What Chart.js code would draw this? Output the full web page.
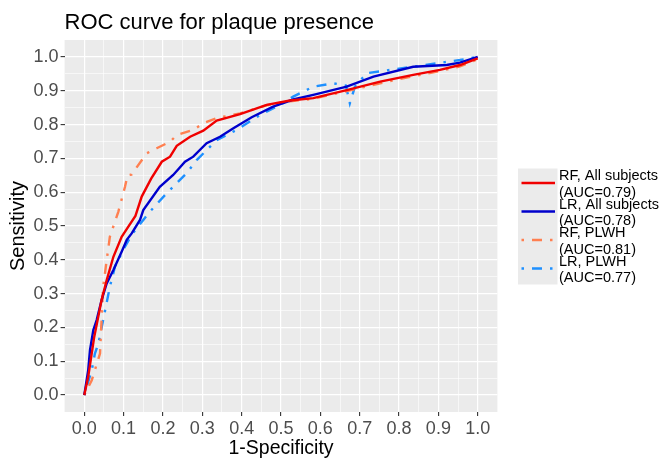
<!DOCTYPE html>
<html>
<head>
<meta charset="utf-8">
<script src="https://cdn.jsdelivr.net/npm/chart.js@4"></script>
<style>
html,body{margin:0;padding:0;background:#fff;}
#c{display:block;}
</style>
</head>
<body>
<canvas id="c" width="661" height="460"></canvas>
<script>
const chartTitle = "ROC curve for plaque presence";
const xTitle = "1-Specificity";
const yTitle = "Sensitivity";
const tickValues = [0,0.1,0.2,0.3,0.4,0.5,0.6,0.7,0.8,0.9,1.0];
const minorValues = [0.05,0.15,0.25,0.35,0.45,0.55,0.65,0.75,0.85,0.95];
const seriesLabels = [
  ["RF, All subjects","(AUC=0.79)"],
  ["LR, All subjects","(AUC=0.78)"],
  ["RF, PLWH","(AUC=0.81)"],
  ["LR, PLWH","(AUC=0.77)"]
];
const rfAll = [[0,0],[0.010,0.054],[0.025,0.17],[0.044,0.281],[0.057,0.340],[0.074,0.409],[0.095,0.468],[0.112,0.498],[0.13,0.53],[0.146,0.587],[0.17,0.64],[0.197,0.690],[0.218,0.705],[0.235,0.737],[0.269,0.764],[0.3025,0.782],[0.3365,0.8115],[0.396,0.831],[0.4636,0.858],[0.523,0.871],[0.582,0.878],[0.667,0.902],[0.752,0.927],[0.836,0.947],[0.904,0.9615],[0.955,0.976],[1.0,0.996]];
const lrAll = [[0,0],[0.010,0.074],[0.0145,0.133],[0.023,0.192],[0.0315,0.222],[0.044,0.281],[0.057,0.330],[0.074,0.370],[0.095,0.424],[0.108,0.459],[0.1205,0.478],[0.1416,0.518],[0.150,0.547],[0.192,0.616],[0.226,0.651],[0.256,0.690],[0.277,0.705],[0.311,0.745],[0.345,0.764],[0.379,0.789],[0.4255,0.8215],[0.480,0.853],[0.531,0.874],[0.582,0.8875],[0.667,0.912],[0.735,0.942],[0.836,0.971],[0.921,0.976],[0.955,0.983],[1.0,1.0]];
const rfPlwh = [[0,0],[0.019,0.044],[0.040,0.123],[0.044,0.222],[0.048,0.320],[0.057,0.399],[0.065,0.468],[0.0865,0.542],[0.1035,0.616],[0.11,0.65],[0.12,0.652],[0.1585,0.715],[0.184,0.730],[0.218,0.749],[0.235,0.769],[0.277,0.784],[0.3025,0.804],[0.3365,0.819],[0.396,0.833],[0.4636,0.857],[0.523,0.869],[0.582,0.876],[0.667,0.899],[0.752,0.922],[0.836,0.943],[0.904,0.958],[0.955,0.972],[1.0,0.993]];
const lrPlwh = [[0,0],[0.019,0.074],[0.027,0.123],[0.036,0.153],[0.048,0.222],[0.053,0.251],[0.065,0.320],[0.078,0.380],[0.1035,0.439],[0.120,0.473],[0.133,0.493],[0.150,0.518],[0.163,0.5375],[0.2095,0.597],[0.260,0.656],[0.2857,0.695],[0.3365,0.754],[0.387,0.784],[0.4466,0.828],[0.4975,0.858],[0.531,0.8825],[0.582,0.912],[0.633,0.922],[0.665,0.915],[0.675,0.863],[0.688,0.912],[0.718,0.952],[0.777,0.9615],[0.836,0.971],[0.896,0.981],[0.955,0.991],[1.0,1.0]];

const seriesData = [rfAll, lrAll, rfPlwh, lrPlwh];
const colors = ["#F00000", "#0000CC", "#FF7F50", "#1E90FF"];
const dashes = [[], [], [2.5, 8, 10, 8], [2.5, 8, 10, 8]];
const FONT = "'Liberation Sans', Arial, sans-serif";

const allTicks = tickValues.concat(minorValues).sort((a,b)=>a-b);
const isMinor = v => Math.round(v*20) % 2 === 1;

function axis(title, isX) {
  return {
    type: 'linear',
    min: -0.05, max: 1.05,
    afterBuildTicks: s => { s.ticks = allTicks.map(v => ({value: v})); },
    afterFit: s => { if (isX) s.height = 48; else s.width = 64.6; },
    border: {display: false},
    grid: {
      color: '#FFFFFF',
      lineWidth: c => (c.tick && isMinor(c.tick.value)) ? 0.6 : 1.2,
      tickColor: c => (c.tick && isMinor(c.tick.value)) ? 'rgba(0,0,0,0)' : '#333333',
      tickWidth: 1.1,
      tickLength: 4,
      drawTicks: true
    },
    ticks: {
      autoSkip: false,
      maxRotation: 0,
      color: '#4D4D4D',
      font: {family: FONT, size: 18},
      padding: isX ? 2 : 2,
      callback: v => isMinor(v) ? '' : Number(v).toFixed(1)
    },
    title: {
      display: true,
      text: title,
      color: '#000000',
      font: {family: FONT, size: isX ? 19.5 : 20, lineHeight: 1.2},
      padding: isX ? {top: 0, bottom: 0} : {top: 6, bottom: 0}
    }
  };
}

const decor = {
  id: 'decor',
  beforeDraw(chart) {
    const {ctx, chartArea: a} = chart;
    ctx.save();
    ctx.fillStyle = '#EBEBEB';
    ctx.fillRect(a.left, a.top, a.right - a.left, a.bottom - a.top);
    ctx.restore();
  },
  afterDraw(chart) {
    const {ctx, chartArea: a} = chart;
    ctx.save();
    ctx.fillStyle = '#000000';
    ctx.font = "22px " + FONT;
    ctx.textBaseline = 'alphabetic';
    ctx.textAlign = 'left';
    ctx.fillText(chartTitle, a.left, 28.5);

    // legend
    const keyL = 518, keyR = 557.5;
    const centers = [183, 211.5, 240, 268.5];
    ctx.fillStyle = '#EBEBEB';
    ctx.fillRect(keyL, 168.5, keyR - keyL, 116);
    chart.data.datasets.forEach((ds, i) => {
      const cy = centers[i];
      ctx.strokeStyle = ds.borderColor;
      ctx.lineWidth = ds.borderWidth;
      ctx.setLineDash(ds.borderDash || []);
      ctx.lineCap = 'butt';
      ctx.beginPath();
      ctx.moveTo(521.5, cy);
      ctx.lineTo(555, cy);
      ctx.stroke();
      ctx.setLineDash([]);
      ctx.fillStyle = '#000000';
      ctx.font = "14.5px " + FONT;
      ctx.fillText(ds.label[0], 559, cy - 8 + 5);
      ctx.fillText(ds.label[1], 559, cy + 8.5 + 5);
    });
    ctx.restore();
  }
};

new Chart(document.getElementById('c'), {
  type: 'scatter',
  data: {
    datasets: seriesData.map((d, i) => ({
      label: seriesLabels[i],
      data: d.map(p => ({x: p[0], y: p[1]})),
      showLine: true,
      borderColor: colors[i],
      backgroundColor: colors[i],
      borderWidth: 2.4,
      borderDash: dashes[i],
      borderCapStyle: 'butt',
      pointRadius: 0,
      tension: 0,
      fill: false
    }))
  },
  options: {
    responsive: false,
    animation: false,
    layout: {padding: {top: 40, right: 163.6, bottom: 0, left: 0}},
    plugins: {legend: {display: false}, title: {display: false}, tooltip: {enabled: false}},
    scales: {x: axis(xTitle, true), y: axis(yTitle, false)}
  },
  plugins: [decor]
});
</script>
</body>
</html>
